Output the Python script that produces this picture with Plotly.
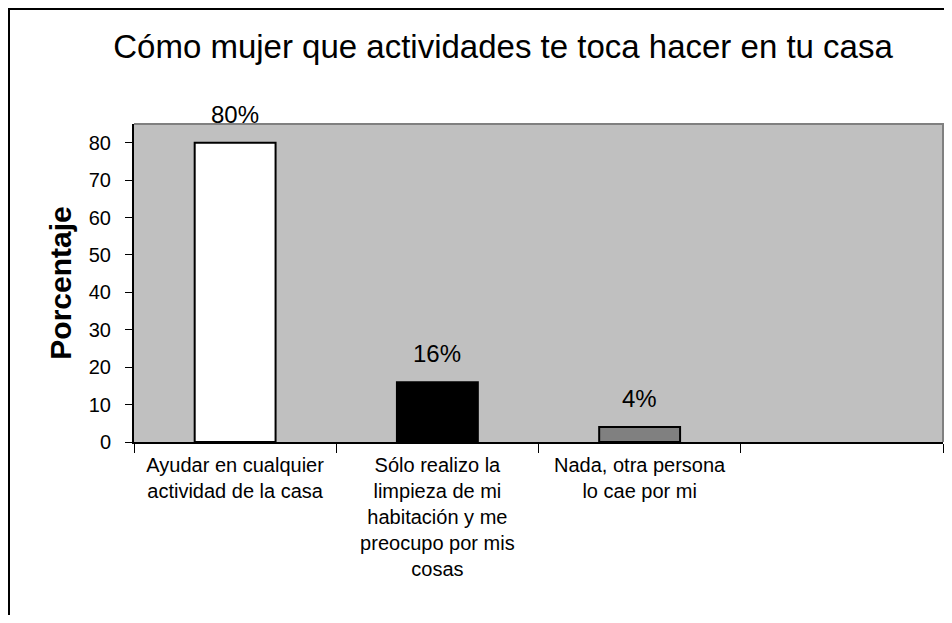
import plotly.graph_objects as go

# 資料
categorias = [
    "Ayudar en cualquier<br>actividad de la casa",
    "Sólo realizo la<br>limpieza de mi<br>habitación y me<br>preocupo por mis<br>cosas",
    "Nada, otra persona<br>lo cae por mi",
    " ",
]
porcentajes = [80, 16, 4, None]
etiquetas = ["80%", "16%", "4%", ""]
colores = ["#FFFFFF", "#000000", "#808080", "#FFFFFF"]

# 頁面 body 有 8px 邊距，所以圖表尺寸扣掉（避免出現捲軸）
OFF = 8
W, H = 952 - 2 * OFF, 623 - 2 * OFF
ML, MT = 134 - OFF, 124 - OFF
MR, MB = W - (943 - OFF), H - (442 - OFF)
pw, ph = W - ML - MR, H - MT - MB

fig = go.Figure()
fig.add_trace(go.Bar(
    x=categorias,
    y=porcentajes,
    marker=dict(color=colores, line=dict(color="#000000", width=2)),
    width=0.4,
    showlegend=False,
    hoverinfo="skip",
))

for c, v, t in zip(categorias, porcentajes, etiquetas):
    if v is None:
        continue
    fig.add_annotation(
        x=c, y=v, text=t, showarrow=False, yanchor="bottom", yshift=13,
        font=dict(family="Liberation Sans, Arial", size=24, color="#000000"),
    )

# 外框
fig.add_shape(
    type="rect", xref="paper", yref="paper",
    x0=(1 - ML) / pw, x1=(W + 20 - ML) / pw,
    y0=-(MB + 20) / ph, y1=(H - 1 - MB) / ph,
    line=dict(color="#000000", width=2), fillcolor="rgba(0,0,0,0)", layer="below",
)
# 繪圖區上、右邊框
fig.add_shape(
    type="path", xref="paper", yref="paper",
    path="M 0 1 L 1 1 L 1 0",
    line=dict(color="#808080", width=2),
)

fig.update_layout(
    width=W, height=H,
    margin=dict(l=ML, r=MR, t=MT, b=MB),
    paper_bgcolor="#FFFFFF",
    plot_bgcolor="#C0C0C0",
    font=dict(family="Liberation Sans, Arial", color="#000000"),
    title=dict(
        text="Cómo mujer que actividades te toca hacer en tu casa",
        x=(503 - OFF) / W, xref="container", xanchor="center",
        y=1 - 38 / H, yanchor="middle",
        font=dict(size=33, color="#000000"),
    ),
    xaxis=dict(
        type="category",
        categoryorder="array", categoryarray=categorias,
        tickson="boundaries", ticks="outside", ticklen=9, tickcolor="#000000",
        ticklabelstandoff=4,
        showline=True, linecolor="#000000", linewidth=2,
        showgrid=False, tickangle=0,
        tickfont=dict(size=20),
        range=[-0.5, 3.5],
    ),
    yaxis=dict(
        range=[0, 85], tickvals=[0, 10, 20, 30, 40, 50, 60, 70, 80],
        ticks="outside", ticklen=7, tickcolor="#000000",
        ticklabelstandoff=10,
        showline=True, linecolor="#000000", linewidth=2,
        showgrid=False, zeroline=False,
        tickfont=dict(size=20),
        title=dict(text="<b>Porcentaje</b>", font=dict(size=30), standoff=8),
    ),
)

fig.write_html("out.html")
